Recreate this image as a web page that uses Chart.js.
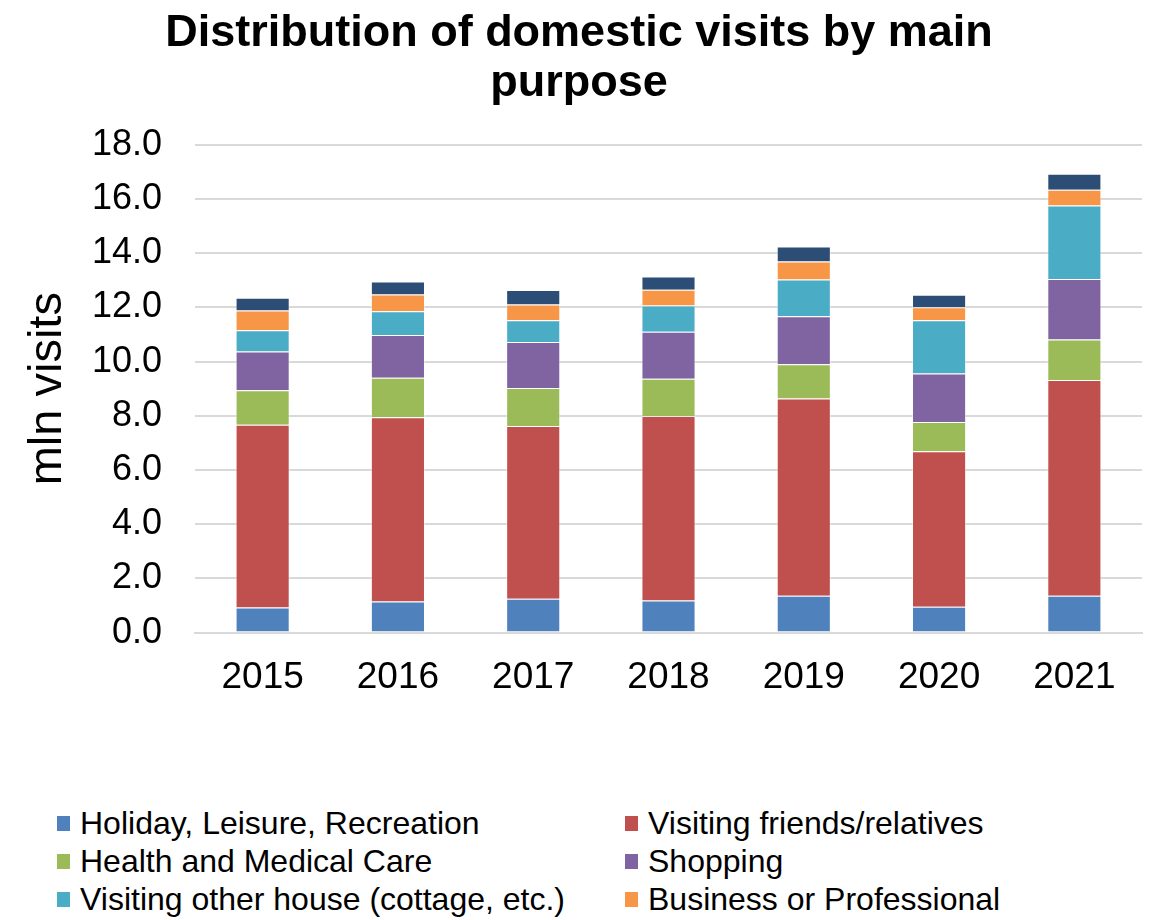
<!DOCTYPE html>
<html><head><meta charset="utf-8">
<script src="https://cdn.jsdelivr.net/npm/chart.js@4"></script>
<style>
html,body{margin:0;padding:0;background:#fff;width:1152px;height:920px;overflow:hidden;}
#wrap{position:relative;width:1152px;height:730px;}
#legend{position:absolute;left:57px;top:804px;display:grid;grid-template-columns:568px 520px;font-family:"Liberation Sans",Arial,sans-serif;font-size:32px;color:#000;}
.item{display:flex;align-items:center;height:38px;white-space:nowrap;}
.box{width:13px;height:15px;margin-right:10px;flex:none;}
</style></head>
<body>
<div id="wrap"><canvas id="c" width="1152" height="730"></canvas></div>
<div id="legend"></div>
<script>
const categories = ['2015', '2016', '2017', '2018', '2019', '2020', '2021'];
const seriesNames = ['Holiday, Leisure, Recreation', 'Visiting friends/relatives', 'Health and Medical Care', 'Shopping', 'Visiting other house (cottage, etc.)', 'Business or Professional', 'Other'];
const holiday    = [0.93, 1.15, 1.25, 1.18, 1.36, 0.95, 1.36];
const vfr        = [6.74, 6.80, 6.37, 6.81, 7.28, 5.74, 7.96];
const health     = [1.27, 1.45, 1.41, 1.38, 1.26, 1.08, 1.50];
const shopping   = [1.43, 1.58, 1.69, 1.73, 1.77, 1.79, 2.23];
const otherHouse = [0.79, 0.88, 0.81, 0.97, 1.36, 1.97, 2.71];
const business   = [0.73, 0.62, 0.58, 0.58, 0.66, 0.48, 0.58];
const other      = [0.47, 0.48, 0.53, 0.49, 0.56, 0.46, 0.59];
const colors = ['#4F81BD', '#C0504D', '#9BBB59', '#8064A2', '#4BACC6', '#F79646', '#2C4D75'];
const seriesValues = [holiday, vfr, health, shopping, otherHouse, business, other];

const FONT = '"Liberation Sans", Arial, sans-serif';
const datasets = seriesValues.map((vals, i) => ({
  label: seriesNames[i],
  data: vals,
  backgroundColor: colors[i],
  borderColor: 'rgba(255,255,255,0.45)',
  borderWidth: 1,
  barPercentage: 0.4,
  categoryPercentage: 1.0
}));

const chart = new Chart(document.getElementById('c'), {
  type: 'bar',
  data: { labels: categories, datasets },
  options: {
    responsive: false,
    animation: false,
    devicePixelRatio: 1,
    layout: { padding: { left: 16, right: 10, top: 8, bottom: 7 } },
    plugins: {
      legend: { display: false },
      tooltip: { enabled: false },
      title: {
        display: true,
        text: ['Distribution of domestic visits by main', 'purpose'],
        color: '#000',
        font: { family: FONT, size: 45, weight: 'bold', lineHeight: 1.12 },
        padding: { top: 0, bottom: 36 }
      }
    },
    scales: {
      x: {
        stacked: true,
        grid: { display: false, drawTicks: false },
        border: { display: true, color: '#d9d9d9', width: 2 },
        ticks: { color: '#000', font: { family: FONT, size: 37 }, padding: 23 }
      },
      y: {
        stacked: true,
        min: 0, max: 18,
        afterFit: s => { s.width = 179; },
        border: { display: false },
        grid: { color: '#d9d9d9', lineWidth: 2, drawTicks: false },
        ticks: { stepSize: 2, color: '#000', font: { family: FONT, size: 36 }, padding: 33,
                 callback: v => Number(v).toFixed(1) },
        title: { display: true, text: 'mln visits', color: '#000', font: { family: FONT, size: 47 }, padding: { top: 4, bottom: 4 } }
      }
    }
  }
});

const legend = document.getElementById('legend');
chart.data.datasets.forEach(ds => {
  const it = document.createElement('div');
  it.className = 'item';
  const b = document.createElement('span');
  b.className = 'box';
  b.style.background = ds.backgroundColor;
  const t = document.createElement('span');
  t.textContent = ds.label;
  it.appendChild(b); it.appendChild(t);
  legend.appendChild(it);
});
</script>
</body></html>
